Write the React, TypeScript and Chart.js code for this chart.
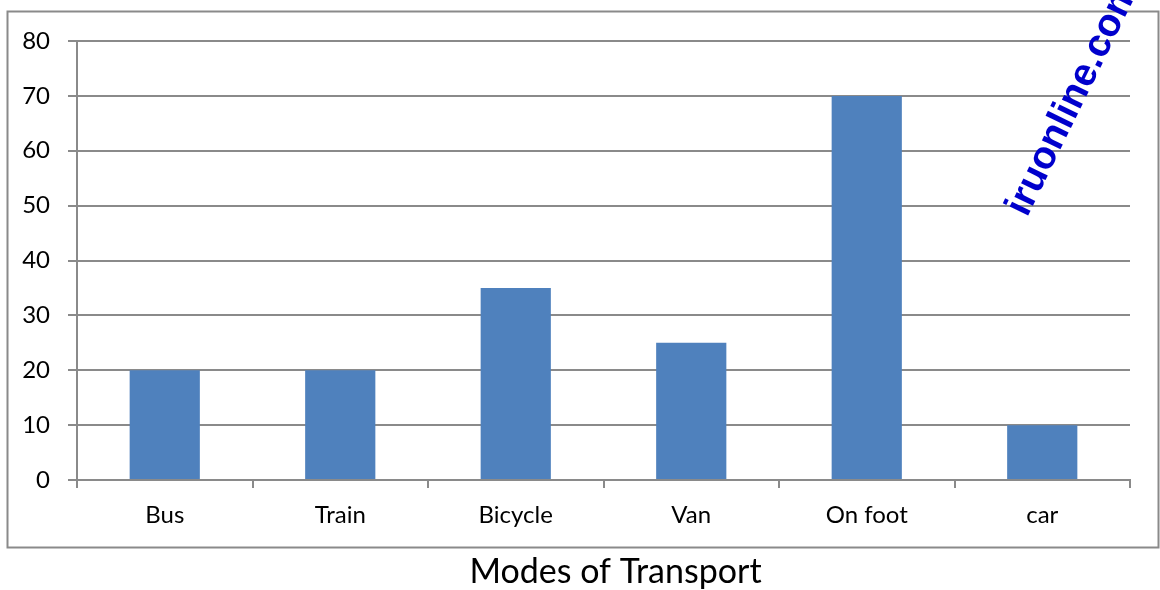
import React, { useEffect, useRef } from "react";
import { Chart, registerables } from "chart.js";

Chart.register(...registerables);

const categories = ["Bus", "Train", "Bicycle", "Van", "On foot", "car"];
const values = [20, 20, 35, 25, 70, 10];
const yTicks = [0, 10, 20, 30, 40, 50, 60, 70, 80];
const axisTitle = "Modes of Transport";
const watermark = "iruonline.com";

const GRID = "#8a8a8a";
const FONT = "Lato, 'Open Sans', sans-serif";

const decorPlugin = {
  id: "decor",
  beforeDraw(chart: any) {
    const ctx = chart.ctx;
    ctx.save();
    ctx.strokeStyle = GRID;
    ctx.lineWidth = 2;
    ctx.strokeRect(7.5, 11.5, 1151, 536);
    ctx.restore();
  },
  afterDraw(chart: any) {
    const ctx = chart.ctx;
    ctx.save();
    ctx.fillStyle = "#000000";
    ctx.font = `34px ${FONT}`;
    ctx.textAlign = "center";
    ctx.textBaseline = "alphabetic";
    ctx.fillText(axisTitle, 615.5, 583);
    ctx.restore();

    ctx.save();
    ctx.translate(1027, 218);
    ctx.rotate((-64 * Math.PI) / 180);
    ctx.fillStyle = "#0000cc";
    ctx.font = "bold 39px 'Liberation Sans', Arial, sans-serif";
    ctx.textAlign = "left";
    ctx.textBaseline = "alphabetic";
    ctx.fillText(watermark, 0, 0);
    ctx.restore();
  },
};

export default function App() {
  const ref = useRef<HTMLCanvasElement | null>(null);
  useEffect(() => {
    if (!ref.current) return;
    const chart = new Chart(ref.current, {
      type: "bar",
      data: {
        labels: categories,
        datasets: [
          {
            data: values,
            backgroundColor: "#4f81bd",
            borderWidth: 0,
            barPercentage: 0.4,
            categoryPercentage: 1,
          },
        ],
      },
      options: {
        animation: false,
        responsive: false,
        devicePixelRatio: 1,
        layout: { padding: { left: 0, right: 30, top: 41, bottom: 0 } },
        plugins: { legend: { display: false }, tooltip: { enabled: false } },
        scales: {
          x: {
            grid: {
              display: true,
              drawOnChartArea: false,
              drawTicks: true,
              tickLength: 8,
              color: GRID,
              lineWidth: 2,
            },
            border: { display: true, color: GRID, width: 2 },
            ticks: {
              color: "#000",
              font: { family: FONT, size: 24 },
              padding: 13,
              maxRotation: 0,
            },
            afterFit: (s: any) => {
              s.height = 110;
            },
          },
          y: {
            min: 0,
            max: 80,
            afterBuildTicks: (s: any) => {
              s.ticks = yTicks.map((v) => ({ value: v }));
            },
            grid: {
              color: GRID,
              lineWidth: 2,
              drawTicks: true,
              tickLength: 9,
            },
            border: { display: true, color: GRID, width: 2 },
            ticks: {
              color: "#000",
              font: { family: FONT, size: 24 },
              padding: 18,
            },
            afterFit: (s: any) => {
              s.width = 77;
            },
          },
        },
      },
      plugins: [decorPlugin],
    });
    return () => chart.destroy();
  }, []);
  return (
    <div style={{ position: "absolute", left: 0, top: 0, width: 1160, height: 590, background: "#fff" }}>
      <canvas ref={ref} width={1160} height={590} style={{ display: "block", width: 1160, height: 590 }} />
    </div>
  );
}
